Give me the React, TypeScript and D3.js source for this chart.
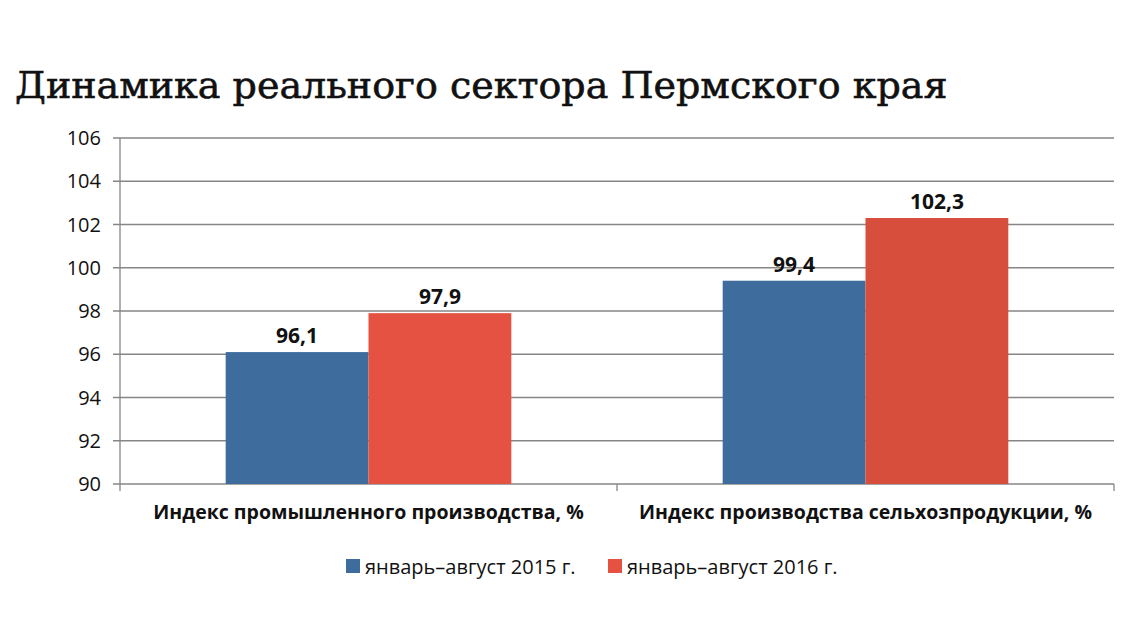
import React from "react";
import * as d3 from "d3";

const categories = ["Индекс промышленного производства, %", "Индекс производства сельхозпродукции, %"];
const seriesNames = ["январь–август 2015 г.", "январь–август 2016 г."];
const values2015 = [96.1, 99.4];
const values2016 = [97.9, 102.3];
const yTicks = [90, 92, 94, 96, 98, 100, 102, 104, 106];
const seriesColors = ["#3e6c9d", "#e65241"];
const barColors = [["#3e6c9d", "#e65241"], ["#3e6c9d", "#d74e3c"]];

export default function App() {
  const W = 1136, H = 644;
  const left = 120, right = 1114, top = 138, bottom = 484;
  const x0 = d3.scaleBand().domain(categories).range([left, right]).paddingInner(0).paddingOuter(0);
  const x1 = d3.scaleBand().domain(["0", "1"]).range([0, x0.bandwidth()]).paddingInner(0).paddingOuter(0.74);
  const y = d3.scaleLinear().domain([90, 106]).range([bottom, top]);
  const series = [values2015, values2016];
  const fmt = (v: number) => v.toFixed(1).replace(".", ",");
  const font = "'Open Sans', 'Liberation Sans', sans-serif";
  return (
    <svg width={W} height={H} style={{ position: "absolute", left: 0, top: 0, background: "#fff" }}>
      <text x={15} y={98} fontFamily="'DejaVu Serif', serif" fontSize={38} fill="#111" stroke="#111" strokeWidth={0.6}>
        Динамика реального сектора Пермского края
      </text>
      {yTicks.map((t) => (
        <g key={t}>
          <line x1={left - 7} x2={right} y1={y(t)} y2={y(t)} stroke="#868686" strokeWidth={1.3} />
          <text x={101} y={y(t)} dy="0.36em" textAnchor="end" fontFamily={font} fontSize={20} fill="#111">
            {t}
          </text>
        </g>
      ))}
      <line x1={left} x2={left} y1={top} y2={bottom} stroke="#868686" strokeWidth={1.3} />
      {[left, ...categories.map((c) => (x0(c) as number) + x0.bandwidth())].map((xv, i) => (
        <line key={i} x1={xv} x2={xv} y1={bottom} y2={bottom + 7} stroke="#868686" strokeWidth={1.3} />
      ))}
      {categories.map((c, ci) =>
        series.map((s, si) => {
          const bx = (x0(c) as number) + (x1(String(si)) as number);
          const bw = x1.bandwidth();
          return (
            <g key={c + si}>
              <rect x={bx} y={y(s[ci])} width={bw} height={bottom - y(s[ci])} fill={barColors[ci][si]} />
              <text x={bx + bw / 2} y={y(s[ci]) - 9} textAnchor="middle" fontFamily={font} fontWeight="bold" fontSize={21} fill="#111">
                {fmt(s[ci])}
              </text>
            </g>
          );
        })
      )}
      {categories.map((c) => (
        <text key={c} x={(x0(c) as number) + x0.bandwidth() / 2} y={519} textAnchor="middle" fontFamily={font} fontWeight="bold" fontSize={19.5} fill="#111">
          {c}
        </text>
      ))}
      {seriesNames.map((n, i) => {
        const lx = [346, 608][i];
        return (
          <g key={n}>
            <rect x={lx} y={559} width={14} height={14} fill={seriesColors[i]} />
            <text x={lx + 19} y={574} fontFamily={font} fontSize={20} fill="#111">
              {n}
            </text>
          </g>
        );
      })}
    </svg>
  );
}
